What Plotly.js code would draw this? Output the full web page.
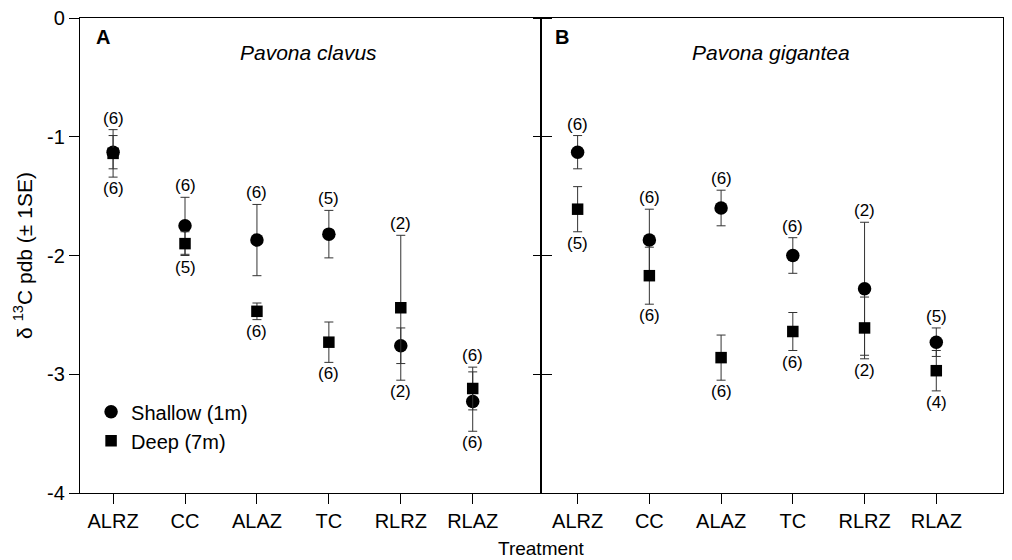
<!DOCTYPE html>
<html>
<head>
<meta charset="utf-8">
<script src="https://cdn.plot.ly/plotly-3.0.1.min.js"></script>
<style>html,body{margin:0;padding:0;background:#fff;}#chart{width:1012px;height:560px;}</style>
</head>
<body>
<div id="chart"></div>
<script>
// Categories (treatments)
var treatments = ["ALRZ", "CC", "ALAZ", "TC", "RLRZ", "RLAZ"];

// Panel A: Pavona clavus
var clavusShallowMean = [-1.13, -1.75, -1.87, -1.82, -2.76, -3.23];
var clavusShallowSE   = [0.14, 0.24, 0.30, 0.20, 0.15, 0.25];
var clavusDeepMean    = [-1.14, -1.90, -2.47, -2.73, -2.44, -3.12];
var clavusDeepSE      = [0.20, 0.10, 0.07, 0.17, 0.61, 0.18];
var clavusNAbove = ["(6)", "(6)", "(6)", "(5)", "(2)", "(6)"];
var clavusNBelow = ["(6)", "(5)", "(6)", "(6)", "(2)", "(6)"];

// Panel B: Pavona gigantea
var giganteaShallowMean = [-1.13, -1.87, -1.60, -2.00, -2.28, -2.73];
var giganteaShallowSE   = [0.14, 0.26, 0.15, 0.15, 0.56, 0.12];
var giganteaDeepMean    = [-1.61, -2.17, -2.86, -2.64, -2.61, -2.97];
var giganteaDeepSE      = [0.19, 0.24, 0.19, 0.16, 0.26, 0.17];
var giganteaNAbove = ["(6)", "(6)", "(6)", "(6)", "(2)", "(5)"];
var giganteaNBelow = ["(5)", "(6)", "(6)", "(6)", "(2)", "(4)"];

var yTickVals = [0, -1, -2, -3, -4];
var yTickText = ["0", "-1", "-2", "-3", "-4"];

var FONT = "Liberation Sans, Arial, Helvetica, sans-serif";
var errStyle = {color: "#333", thickness: 1, width: 4.5};

function errTrace(name, means, se, symbol, size, xa, ya, showLegend) {
  return {
    type: "scatter", mode: "markers", name: name,
    x: treatments, y: means,
    xaxis: xa, yaxis: ya,
    showlegend: showLegend,
    marker: {symbol: symbol, size: size, color: "#000"},
    error_y: Object.assign({type: "data", array: se, visible: true}, errStyle),
    hoverinfo: "x+y"
  };
}

var data = [
  errTrace("Shallow (1m)", clavusShallowMean, clavusShallowSE, "circle", 13.5, "x", "y", true),
  errTrace("Deep (7m)", clavusDeepMean, clavusDeepSE, "square", 11.5, "x", "y", true),
  errTrace("Shallow (1m)", giganteaShallowMean, giganteaShallowSE, "circle", 13.5, "x2", "y2", false),
  errTrace("Deep (7m)", giganteaDeepMean, giganteaDeepSE, "square", 11.5, "x2", "y2", false)
];

var annotations = [];
function nLabels(xref, yref, sm, sse, dm, dse, above, below) {
  for (var i = 0; i < treatments.length; i++) {
    var top = Math.max(sm[i] + sse[i], dm[i] + dse[i]);
    var bot = Math.min(sm[i] - sse[i], dm[i] - dse[i]);
    annotations.push({xref: xref, yref: yref, x: treatments[i], y: top, text: above[i],
      showarrow: false, yanchor: "bottom", yshift: 0, font: {family: FONT, size: 17, color: "#000"}});
    annotations.push({xref: xref, yref: yref, x: treatments[i], y: bot, text: below[i],
      showarrow: false, yanchor: "top", yshift: 0, font: {family: FONT, size: 17, color: "#000"}});
  }
}
nLabels("x", "y", clavusShallowMean, clavusShallowSE, clavusDeepMean, clavusDeepSE, clavusNAbove, clavusNBelow);
nLabels("x2", "y2", giganteaShallowMean, giganteaShallowSE, giganteaDeepMean, giganteaDeepSE, giganteaNAbove, giganteaNBelow);

// panel letters and species names
annotations.push({xref: "paper", yref: "paper", x: 0.015, y: 0.96, xanchor: "left", yanchor: "middle",
  text: "<b>A</b>", showarrow: false, font: {family: FONT, size: 20, color: "#000"}});
annotations.push({xref: "paper", yref: "paper", x: 0.248, y: 0.928, xanchor: "center", yanchor: "middle",
  text: "<i>Pavona clavus</i>", showarrow: false, font: {family: FONT, size: 21, color: "#000"}});
annotations.push({xref: "paper", yref: "paper", x: 0.513, y: 0.96, xanchor: "left", yanchor: "middle",
  text: "<b>B</b>", showarrow: false, font: {family: FONT, size: 20, color: "#000"}});
annotations.push({xref: "paper", yref: "paper", x: 0.749, y: 0.928, xanchor: "center", yanchor: "middle",
  text: "<i>Pavona gigantea</i>", showarrow: false, font: {family: FONT, size: 21, color: "#000"}});
// shared x title
annotations.push({xref: "paper", yref: "paper", x: 0.5, y: -0.116, xanchor: "center", yanchor: "middle",
  text: "Treatment", showarrow: false, font: {family: FONT, size: 19, color: "#000"}});

var xCommon = {
  type: "category", categoryarray: treatments,
  showline: true, linecolor: "#000", linewidth: 1.2, mirror: true,
  ticks: "outside", ticklen: 10, tickcolor: "#000", tickwidth: 1,
  showgrid: false, zeroline: false,
  tickfont: {family: FONT, size: 20, color: "#000"}, fixedrange: true
};

var layout = {
  width: 1012, height: 560,
  margin: {l: 80, r: 9, t: 18, b: 67},
  paper_bgcolor: "#fff", plot_bgcolor: "#fff",
  font: {family: FONT, color: "#000"},
  showlegend: true,
  legend: {x: 0.012, y: 0.212, xanchor: "left", yanchor: "top", bgcolor: "rgba(0,0,0,0)",
    font: {family: FONT, size: 20, color: "#000"}, itemwidth: 30, tracegroupgap: 0},
  xaxis: Object.assign({}, xCommon, {domain: [0, 0.4995], range: [-0.46, 5.95], anchor: "y"}),
  xaxis2: Object.assign({}, xCommon, {domain: [0.4995, 1], range: [-0.51, 5.93], anchor: "y2"}),
  yaxis: {
    domain: [0, 1], range: [-4, 0], anchor: "x",
    tickvals: yTickVals, ticktext: yTickText,
    showline: true, linecolor: "#000", linewidth: 1.2, mirror: "ticks",
    ticks: "outside", ticklen: 10, tickcolor: "#000", tickwidth: 1,
    showgrid: false, zeroline: false,
    tickfont: {family: FONT, size: 20, color: "#000"},
    title: {text: "δ <sup>13</sup>C pdb (± 1SE)", font: {family: FONT, size: 21, color: "#000"}, standoff: 8},
    fixedrange: true
  },
  yaxis2: {
    domain: [0, 1], range: [-4, 0], anchor: "x2", matches: "y",
    tickvals: yTickVals, showticklabels: false,
    showline: true, linecolor: "#000", linewidth: 1, mirror: true,
    ticks: "outside", ticklen: 7, tickcolor: "#000", tickwidth: 1,
    showgrid: false, zeroline: false, fixedrange: true
  },
  annotations: annotations
};

Plotly.newPlot("chart", data, layout, {displayModeBar: false, staticPlot: true});
</script>
</body>
</html>
